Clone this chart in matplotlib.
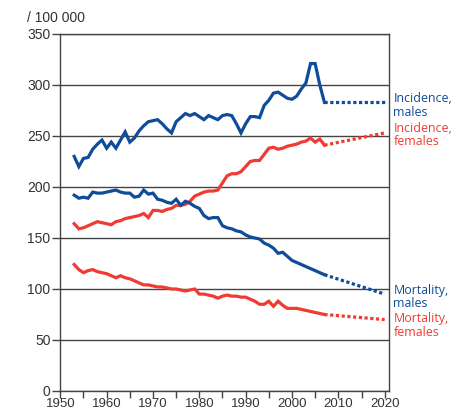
import numpy as np
import matplotlib
matplotlib.use('Agg')
import matplotlib.pyplot as plt

# observed years
years = np.arange(1953, 2008)

# incidence, males (per 100 000)
inc_males = [230, 220, 228, 229, 237, 242, 246, 238, 244, 238,
             246, 254, 244, 248, 255, 260, 264, 265, 266, 262,
             257, 253, 264, 268, 272, 270, 272, 269, 266, 270,
             268, 266, 270, 271, 270, 262, 253, 262, 269, 269,
             268, 280, 285, 292, 293, 290, 287, 286, 289, 296,
             302, 321, 321, 300, 283]
# incidence, females
inc_females = [164, 159, 160, 162, 164, 166, 165, 164, 163, 166,
               167, 169, 170, 171, 172, 174, 170, 177, 177, 176,
               178, 179, 182, 182, 183, 186, 191, 193, 195, 196,
               196, 197, 204, 211, 213, 213, 215, 220, 225, 226,
               226, 232, 238, 239, 237, 238, 240, 241, 242, 244,
               245, 248, 244, 247, 241]
# mortality, males
mort_males = [192, 189, 190, 189, 195, 194, 194, 195, 196, 197,
              195, 194, 194, 190, 191, 197, 193, 194, 188, 187,
              185, 184, 188, 182, 186, 184, 181, 179, 172, 169,
              170, 170, 162, 160, 159, 157, 156, 153, 151, 150,
              149, 145, 143, 140, 135, 136, 132, 128, 126, 124,
              122, 120, 118, 116, 114]
# mortality, females
mort_females = [124, 119, 116, 118, 119, 117, 116, 115, 113, 111,
                113, 111, 110, 108, 106, 104, 104, 103, 102, 102,
                101, 100, 100, 99, 98, 99, 100, 95, 95, 94,
                93, 91, 93, 94, 93, 93, 92, 92, 90, 88,
                85, 85, 88, 83, 88, 84, 81, 81, 81, 80,
                79, 78, 77, 76, 75]

# projections 2007 -> 2020
proj_years = [2007, 2020]
proj_inc_males = [283, 283]
proj_inc_females = [241, 253]
proj_mort_males = [114, 95]
proj_mort_females = [75, 70]

labels = ['Incidence,\nmales', 'Incidence,\nfemales', 'Mortality,\nmales', 'Mortality,\nfemales']
label_y = [293, 264, 105, 77]

blue = '#0f4c99'
red = '#f03a32'
grid_col = '#444444'
text_col = '#333333'

plt.rcParams['font.family'] = ['Liberation Sans', 'DejaVu Sans']

fig = plt.figure(figsize=(4.54, 4.13), dpi=100)
ax = fig.add_axes([0.1328, 0.0533, 0.7247, 0.8644])

series = [(inc_males, proj_inc_males, blue), (inc_females, proj_inc_females, red),
          (mort_males, proj_mort_males, blue), (mort_females, proj_mort_females, red)]
for obs, proj, col in series:
    ax.plot(years, obs, color=col, lw=2.3, solid_joinstyle='miter', zorder=3)
    ax.plot(proj_years, proj, color=col, lw=2.3, linestyle=(0, (1, 0.8)), zorder=3)

ax.set_xlim(1950, 2021)
ax.set_ylim(0, 350)
ax.set_yticks(np.arange(0, 351, 50))
ax.set_xticks(np.arange(1950, 2021, 10))
ax.set_xticks(np.arange(1955, 2021, 10), minor=True)
ax.grid(axis='y', color=grid_col, lw=1)
ax.set_axisbelow(True)
for s in ax.spines.values():
    s.set_color(grid_col)
    s.set_linewidth(1)
ax.tick_params(which='both', direction='out', length=6, width=1, color=grid_col,
               labelsize=10, labelcolor=text_col, pad=1)
ax.tick_params(axis='x', which='both', length=5, pad=0, labelsize=9.5)

ax.text(-0.1, 1.025, '/ 100 000', transform=ax.transAxes, fontsize=10,
        color=text_col, ha='left', va='bottom')

for txt, yv, col in zip(labels, label_y, [blue, red, blue, red]):
    ax.text(2021.9, yv, txt, color=col, fontsize=8.9, family=['Open Sans', 'DejaVu Sans'],
            ha='left', va='top', linespacing=1.05, clip_on=False)

fig.savefig('out.png', dpi=100)
